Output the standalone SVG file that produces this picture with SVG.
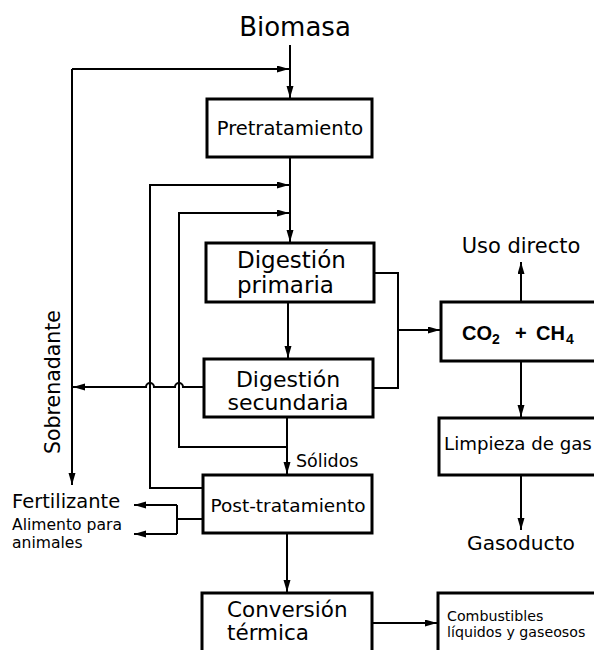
<svg xmlns="http://www.w3.org/2000/svg" width="594" height="650" viewBox="0 0 594 650">
<defs>
<marker id="ah" markerWidth="13" markerHeight="8" refX="12" refY="3.5" orient="auto" markerUnits="userSpaceOnUse">
<path d="M0,0 L12,3.5 L0,7 z" fill="#000"/>
</marker>
<style>
.box{fill:#fff;stroke:#000;stroke-width:3}
.ln{fill:none;stroke:#000;stroke-width:2}
.ar{marker-end:url(#ah)}
text{font-family:"DejaVu Sans","Liberation Sans",sans-serif;fill:#000}
.c{text-anchor:middle}
.chem{font-family:"Liberation Sans",Arial,sans-serif;font-weight:bold}
</style>
</defs>
<rect x="0" y="0" width="594" height="650" fill="#fff"/>

<g id="connectors">
<path class="ln ar" d="M290,45 V98"/>
<path class="ln ar" d="M72,69 H289"/>
<path class="ln ar" d="M72,69 V485"/>
<path class="ln ar" d="M204,387 H183 A4,4 0 0 0 175,387 H154 A4,4 0 0 0 146,387 H73"/>
<path class="ln ar" d="M290,157 V242"/>
<path class="ln ar" d="M203,488 H150 V185 H289"/>
<path class="ln ar" d="M287,447 H179 V213 H289"/>
<path class="ln ar" d="M287,417 V474"/>
<path class="ln ar" d="M288,302 V358"/>
<path class="ln" d="M374,273 H398 V388 H373"/>
<path class="ln ar" d="M398,330 H440"/>
<path class="ln ar" d="M521,302 V262"/>
<path class="ln ar" d="M521,361 V417"/>
<path class="ln ar" d="M521,476 V530"/>
<path class="ln ar" d="M287,533 V592"/>
<path class="ln" d="M203,519 H177 M177,505 V534"/>
<path class="ln ar" d="M177,505 H134"/>
<path class="ln ar" d="M177,534 H134"/>
<path class="ln ar" d="M372,623 H437"/>
</g>

<g id="biomasa"><text class="c" x="295" y="36" font-size="26">Biomasa</text></g>

<g id="pretratamiento">
<rect class="box" x="207" y="99" width="165" height="58"/>
<text class="c" x="290" y="135" font-size="19.5">Pretratamiento</text>
</g>

<g id="digestion-primaria">
<rect class="box" x="206" y="243" width="168" height="59"/>
<text x="237" y="268" font-size="23">Digestión</text>
<text x="237" y="293" font-size="23">primaria</text>
</g>

<g id="digestion-secundaria">
<rect class="box" x="204" y="359" width="169" height="58"/>
<text class="c" x="288" y="387" font-size="22">Digestión</text>
<text class="c" x="288" y="410" font-size="22">secundaria</text>
</g>

<g id="solidos"><text x="296" y="467" font-size="17.5">Sólidos</text></g>

<g id="post-tratamiento">
<rect class="box" x="203" y="475" width="169" height="58"/>
<text class="c" x="288" y="512" font-size="18.5">Post-tratamiento</text>
</g>

<g id="conversion">
<rect class="box" x="202" y="593" width="170" height="70"/>
<text x="227" y="617" font-size="21.5">Conversión</text>
<text x="227" y="640" font-size="21.5">térmica</text>
</g>

<g id="sobrenadante"><text class="c" transform="translate(60,382) rotate(-90)" font-size="20.5">Sobrenadante</text></g>

<g id="fertilizante"><text x="12" y="508" font-size="19.5">Fertilizante</text></g>
<g id="alimento">
<text x="12" y="530" font-size="15.6">Alimento para</text>
<text x="12" y="548" font-size="15.6">animales</text>
</g>

<g id="uso-directo"><text class="c" x="521" y="253" font-size="21">Uso directo</text></g>

<g id="co2-ch4">
<rect class="box" x="441" y="302" width="170" height="59"/>
<text class="chem" x="462" y="340" font-size="20">CO</text>
<text class="chem" x="492" y="344" font-size="14">2</text>
<text class="chem" x="515" y="340" font-size="20">+</text>
<text class="chem" x="536" y="340" font-size="20">CH</text>
<text class="chem" x="566" y="344" font-size="14">4</text>
</g>

<g id="limpieza">
<rect class="box" x="439" y="418" width="170" height="57"/>
<text x="444" y="450" font-size="18.2">Limpieza de gas</text>
</g>

<g id="gasoducto"><text class="c" x="521" y="550" font-size="20.2">Gasoducto</text></g>

<g id="combustibles">
<rect class="box" x="438" y="593" width="170" height="70"/>
<text x="447" y="621" font-size="14.2">Combustibles</text>
<text x="447" y="637" font-size="14.2">líquidos y gaseosos</text>
</g>
</svg>
